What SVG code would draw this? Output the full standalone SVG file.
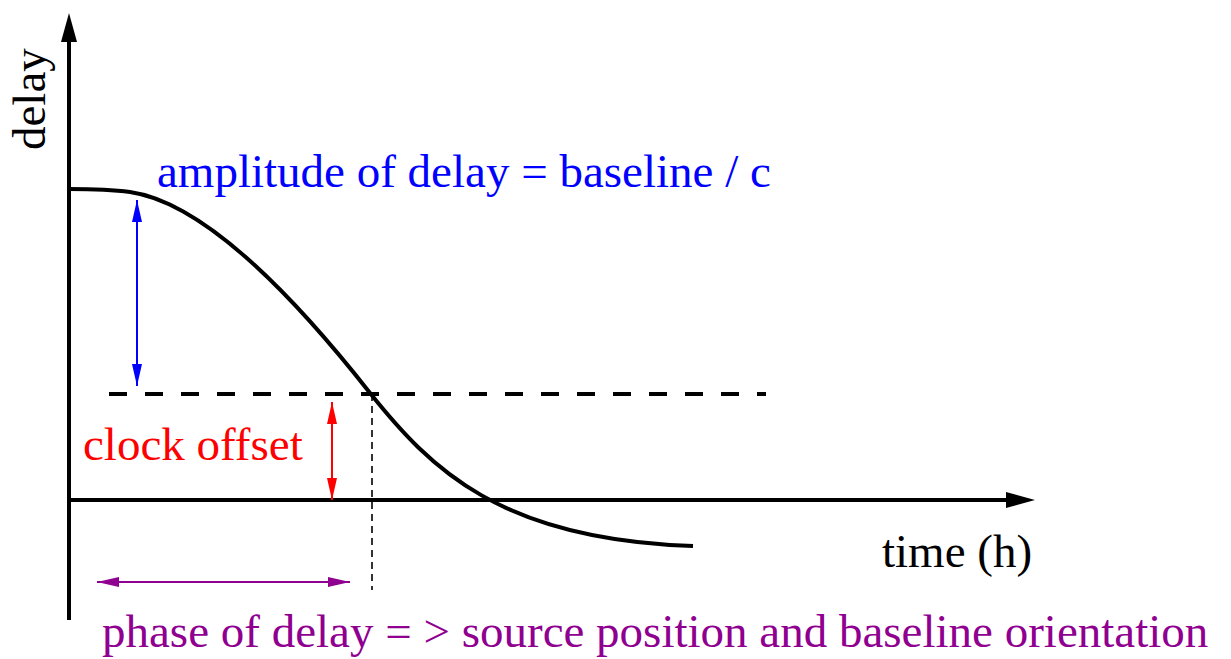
<svg xmlns="http://www.w3.org/2000/svg" width="1231" height="659" viewBox="0 0 1231 659">
<style>
text{font-family:"Liberation Serif","Times New Roman",serif;font-size:47px}
.ax{stroke:#000;stroke-width:4;fill:none}
.blue{fill:#0000ff}.red{fill:#ff0000}.purple{fill:#900090}
</style>
<defs>
<marker id="hb" viewBox="0 0 22 10" refX="22" refY="5" markerWidth="22" markerHeight="10" markerUnits="userSpaceOnUse" orient="auto-start-reverse"><path d="M0,0 L22,5 L0,10 Z" fill="#0000ff"/></marker>
<marker id="hr" viewBox="0 0 22 10" refX="22" refY="5" markerWidth="22" markerHeight="10" markerUnits="userSpaceOnUse" orient="auto-start-reverse"><path d="M0,0 L22,5 L0,10 Z" fill="#ff0000"/></marker>
<marker id="hp" viewBox="0 0 22 10" refX="22" refY="5" markerWidth="22" markerHeight="10" markerUnits="userSpaceOnUse" orient="auto-start-reverse"><path d="M0,0 L22,5 L0,10 Z" fill="#900090"/></marker>
</defs>
<g id="axes">
<line class="ax" x1="69" y1="620" x2="69" y2="38"/>
<polygon points="69,13 61,42 77,42" fill="#000"/>
<line class="ax" x1="69" y1="500" x2="1010" y2="500"/>
<polygon points="1035,500 1006,492 1006,508" fill="#000"/>
<text x="882" y="567">time (h)</text>
<text transform="translate(45,150) rotate(-90)">delay</text>
</g>
<g id="curve">
<path class="ax" d="M69,189 C100,189 115,190 130,192 C200,202 285,285 370,393 C430,468 500,540 693,546"/>
</g>
<g id="baseline-offset">
<line x1="109" y1="394" x2="766" y2="394" stroke="#000" stroke-width="4" stroke-dasharray="18,18"/>
<line x1="372" y1="394" x2="372" y2="590" stroke="#000" stroke-width="1.6" stroke-dasharray="7,5"/>
</g>
<g id="connectors">
<line x1="137" y1="200" x2="137" y2="386" stroke="#0000ff" stroke-width="2" marker-start="url(#hb)" marker-end="url(#hb)"/>
<line x1="332" y1="402" x2="332" y2="500" stroke="#ff0000" stroke-width="2" marker-start="url(#hr)" marker-end="url(#hr)"/>
<line x1="97" y1="582" x2="350" y2="582" stroke="#900090" stroke-width="2" marker-start="url(#hp)" marker-end="url(#hp)"/>
</g>
<g id="labels">
<text class="blue" x="157" y="187">amplitude of delay = baseline / c</text>
<text class="red" x="83" y="460">clock offset</text>
<text class="purple" x="102" y="647">phase of delay = &gt; source position and baseline orientation</text>
</g>
</svg>
